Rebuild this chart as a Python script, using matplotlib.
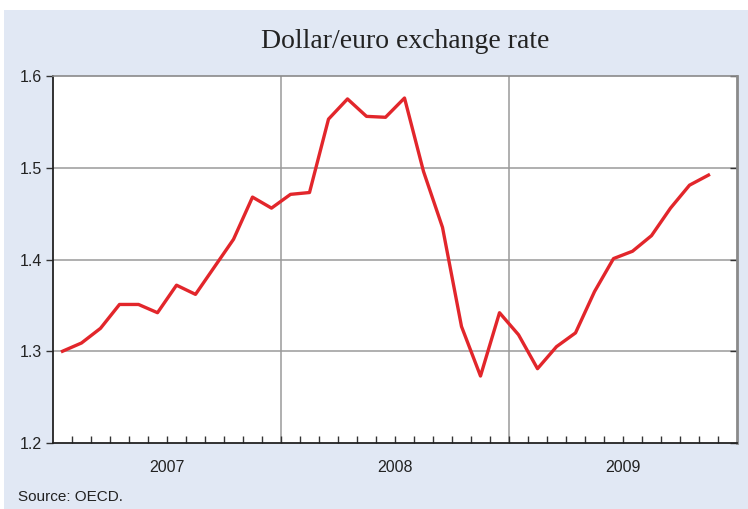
import matplotlib.pyplot as plt
from matplotlib.patches import Rectangle

# monthly dollar/euro rate, Jan 2007 - Nov 2009
rate = [1.300, 1.309, 1.325, 1.351, 1.351, 1.342, 1.372, 1.362, 1.392, 1.422,
        1.468, 1.456,
        1.471, 1.473, 1.553, 1.575, 1.556, 1.555, 1.576, 1.496, 1.435, 1.327,
        1.273, 1.342,
        1.318, 1.281, 1.305, 1.320, 1.365, 1.401, 1.409, 1.426, 1.456, 1.481,
        1.492]
years = ['2007', '2008', '2009']
y_ticks = [1.2, 1.3, 1.4, 1.5, 1.6]

panel = '#e1e8f4'
red = '#e2262b'

fig = plt.figure(figsize=(7.48, 5.09), dpi=100)
fig.patch.set_facecolor('white')
fig.patches.append(Rectangle((4 / 748, 0), 1, 499 / 509, transform=fig.transFigure,
                             facecolor=panel, edgecolor='none', zorder=-10))

ax = fig.add_axes([53 / 748, 66 / 509, 684 / 748, 367 / 509])
ax.set_facecolor('white')

months = [i + 0.5 for i in range(len(rate))]
ax.plot(months, rate, color=red, lw=2.4, zorder=3)

ax.set_xlim(0, 36)
ax.set_ylim(1.2, 1.6)

# grid and year separators
for v in y_ticks[1:-1]:
    ax.axhline(v, color='#9a9a9a', lw=1.1, zorder=1)
for x in [12, 24]:
    ax.axvline(x, color='#9a9a9a', lw=1.1, zorder=1)

ax.set_yticks(y_ticks)
ax.set_yticklabels([f'{v:.1f}' for v in y_ticks], fontsize=11.5, color='#222222',
                   family='Liberation Sans')
ax.tick_params(axis='y', direction='out', length=5, width=1, color='#333333', pad=3,
               right=True)
for t in ax.yaxis.get_major_ticks():
    t.tick2line.set_marker(0)  # inward on the right side
    t.tick2line.set_markersize(5)

ax.set_xticks(range(1, 36))
ax.set_xticklabels([])
ax.tick_params(axis='x', direction='in', length=5, width=1, color='#333333')

for i, y in enumerate(years):
    ax.text(6 + 12 * i, -0.066, y, transform=ax.get_xaxis_transform(),
            ha='center', va='center', fontsize=11.5, color='#222222',
            family='Liberation Sans')

for side in ['left', 'bottom']:
    ax.spines[side].set_color('#222222')
    ax.spines[side].set_linewidth(1.3)
ax.spines['top'].set_color('#8a8a8a')
ax.spines['top'].set_linewidth(1.2)
ax.spines['right'].set_color('#8a8a8a')
ax.spines['right'].set_linewidth(2)

fig.text(405 / 748, 1 - 42 / 509, 'Dollar/euro exchange rate', ha='center', va='center',
         fontsize=20, family='Liberation Serif', color='#222222')
fig.text(18 / 748, 1 - 497 / 509, 'Source: OECD.', ha='left', va='center',
         fontsize=11, family='Liberation Sans', color='#222222')

fig.savefig('out.png', dpi=100)
